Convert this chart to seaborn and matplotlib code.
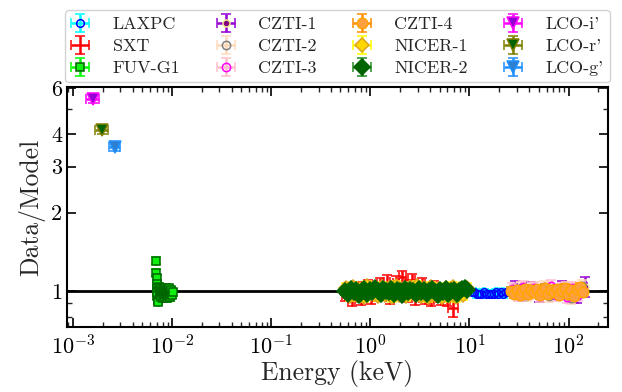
import numpy as np
import matplotlib
matplotlib.use("Agg")
import matplotlib.pyplot as plt
from matplotlib.ticker import FixedLocator, FixedFormatter, LogLocator, NullFormatter
import seaborn as sns

# ---------------- data (energy in keV, data/model ratio) ----------------
lco_i_energy = [1.6e-3]
lco_i_ratio = [5.45]
lco_r_energy = [1.95e-3]
lco_r_ratio = [4.15]
lco_g_energy = [2.65e-3]
lco_g_ratio = [3.58]

fuv_energy = [0.0069, 0.0069, 0.0070, 0.0070, 0.0070, 0.0071, 0.0071, 0.0072, 0.0072,
              0.0074, 0.0075, 0.0076, 0.0077, 0.0078, 0.0079, 0.0080, 0.0081, 0.0082,
              0.0083, 0.0084, 0.0085, 0.0086, 0.0087, 0.0088, 0.0089, 0.0090, 0.0091,
              0.0092, 0.0093, 0.0094, 0.0095, 0.0096, 0.0097, 0.0098, 0.0100, 0.0102]
fuv_ratio = [1.31, 1.18, 1.12, 1.07, 1.03, 0.99, 0.96, 0.93, 0.91,
             1.04, 0.97, 1.01, 0.95, 1.03, 0.99, 0.94, 1.02, 0.97,
             1.00, 0.95, 1.03, 0.98, 1.01, 0.94, 0.99, 1.02, 0.96,
             1.00, 0.97, 1.03, 0.95, 1.00, 0.98, 1.01, 0.97, 0.99]

sxt_energy = [0.56, 0.60, 0.65, 0.70, 0.75, 0.81, 0.87, 0.94, 1.01, 1.09, 1.17, 1.26,
              1.36, 1.46, 1.57, 1.69, 1.82, 1.96, 2.11, 2.27, 2.45, 2.63, 2.84, 3.05,
              3.29, 3.54, 3.81, 4.10, 4.42, 4.76, 5.12, 5.52, 5.94, 6.40, 6.90]
sxt_ratio = [0.97, 1.02, 0.93, 0.99, 1.03, 0.94, 0.98, 1.05, 0.95, 1.01, 0.97, 1.07,
             0.99, 1.09, 0.95, 1.03, 1.08, 1.00, 1.13, 0.96, 1.05, 1.10, 0.94, 1.03,
             1.07, 0.95, 1.02, 0.93, 1.04, 0.96, 0.94, 1.01, 0.93, 0.98, 0.86]

nicer1_energy = [0.57, 0.62, 0.67, 0.73, 0.79, 0.86, 0.93, 1.01, 1.10, 1.19, 1.30, 1.41,
                 1.53, 1.66, 1.80, 1.96, 2.13, 2.31, 2.51, 2.73, 2.96, 3.22, 3.50, 3.80,
                 4.13, 4.48, 4.87, 5.29, 5.75, 6.24, 6.78, 7.37, 8.00, 8.70, 9.45]
nicer1_ratio = [1.03, 0.96, 1.04, 0.97, 1.02, 0.95, 1.05, 0.98, 1.03, 0.96, 1.04, 0.97,
                1.03, 0.95, 1.05, 0.97, 1.02, 0.96, 1.04, 0.98, 1.05, 0.96, 1.03, 0.95,
                1.04, 0.97, 1.02, 0.95, 1.03, 0.96, 1.04, 0.95, 1.02, 0.97, 1.03]

nicer2_energy = [0.56, 0.60, 0.64, 0.68, 0.72, 0.77, 0.82, 0.87, 0.93, 0.99, 1.05, 1.12,
                 1.19, 1.27, 1.35, 1.44, 1.53, 1.63, 1.74, 1.85, 1.97, 2.10, 2.24, 2.38,
                 2.54, 2.70, 2.88, 3.07, 3.27, 3.48, 3.71, 3.95, 4.21, 4.48, 4.77, 5.08,
                 5.41, 5.76, 6.14, 6.54, 6.96, 7.42, 7.90, 8.41, 8.96, 9.55]
nicer2_ratio = [1.00, 0.98, 1.02, 0.99, 1.01, 0.97, 1.00, 1.02, 0.98, 1.01, 0.99, 1.03,
                1.00, 0.98, 1.02, 1.00, 0.99, 1.02, 0.98, 1.01, 1.00, 0.97, 1.02, 0.99,
                1.01, 1.00, 0.98, 1.02, 0.99, 1.01, 0.98, 1.00, 1.02, 0.99, 0.97, 1.01,
                0.99, 1.02, 0.98, 1.00, 1.01, 0.98, 1.00, 1.02, 1.03, 1.01]

laxpc_energy = [10.6, 11.2, 11.8, 12.5, 13.2, 14.0, 14.8, 15.6, 16.5, 17.5, 18.5, 19.6,
                20.7, 21.9, 23.2, 24.5, 26.0]
laxpc_ratio = [0.99, 0.99, 0.98, 0.98, 0.98, 0.99, 0.98, 0.98, 0.98, 0.98, 0.99, 0.98,
               0.99, 0.98, 0.99, 0.99, 1.00]

czti1_energy = [29, 35, 42, 50, 60, 72, 86, 103, 123, 145]
czti1_ratio = [1.03, 0.98, 1.02, 0.97, 1.01, 0.99, 1.03, 0.97, 0.96, 1.04]
czti2_energy = [28, 33, 38, 43, 49, 56, 64, 73, 83, 94, 107, 122, 138]
czti2_ratio = [0.99, 1.03, 0.97, 1.02, 0.98, 1.04, 0.96, 1.01, 0.98, 1.03, 0.94, 1.02, 1.05]
czti3_energy = [27, 31, 35, 40, 45, 51, 58, 66, 75, 85, 96, 109, 124, 140]
czti3_ratio = [1.02, 0.97, 1.04, 0.98, 1.03, 0.96, 1.01, 1.05, 0.97, 1.02, 0.95, 1.03, 0.97, 1.01]
czti4_energy = [26, 28, 30, 32, 34, 36.5, 39, 41.5, 44.5, 47.5, 51, 54.5, 58, 62, 66.5,
                71, 76, 81, 86.5, 92.5, 99, 106, 113, 121, 130, 140]
czti4_ratio = [1.00, 0.98, 1.01, 0.97, 1.00, 1.02, 0.98, 1.01, 0.99, 1.02, 0.97, 1.00,
               1.03, 0.98, 1.01, 0.99, 1.02, 0.97, 1.00, 1.03, 0.98, 1.01, 0.96, 1.02,
               1.04, 0.99]

# fractional 1-sigma errors (ratio) and half bin widths (energy)
ratio_err = {"LAXPC": 0.035, "SXT": 0.055, "FUV-G1": 0.03, "CZTI-1": 0.06, "CZTI-2": 0.05,
             "CZTI-3": 0.05, "CZTI-4": 0.035, "NICER-1": 0.045, "NICER-2": 0.035,
             "LCO-i'": 0.035, "LCO-r'": 0.035, "LCO-g'": 0.035}
bin_halfwidth = {"LAXPC": 0.03, "SXT": 0.08, "FUV-G1": 0.015, "CZTI-1": 0.05, "CZTI-2": 0.05,
                 "CZTI-3": 0.05, "CZTI-4": 0.04, "NICER-1": 0.03, "NICER-2": 0.03,
                 "LCO-i'": 0.15, "LCO-r'": 0.15, "LCO-g'": 0.12}

# ---------------- style ----------------
sns.set_theme(style="ticks")
plt.rcParams.update({
    "font.family": "serif",
    "font.serif": ["cmr10", "DejaVu Serif"],
    "mathtext.fontset": "cm",
    "axes.formatter.use_mathtext": True,
    "axes.unicode_minus": False,
    "xtick.direction": "in",
    "ytick.direction": "in",
    "xtick.top": True,
    "ytick.right": True,
    "axes.edgecolor": "black",
    "axes.linewidth": 1.5,
})

fig = plt.figure(figsize=(6.22, 3.92), dpi=100)
ax = fig.add_axes([67 / 622, 1 - 327 / 392, 541 / 622, 240 / 392])

ax.axhline(1.0, color="black", lw=2.0, zorder=1)

series = [
    # label, energy, ratio, ecolor, marker, facecolor, edgecolor, markersize
    ("LAXPC", laxpc_energy, laxpc_ratio, "cyan", "o", "none", "blue", 5.5),
    ("SXT", sxt_energy, sxt_ratio, "red", "none", "red", "red", 0),
    ("FUV-G1", fuv_energy, fuv_ratio, "lime", "s", "#11ee11", "darkgreen", 6),
    ("CZTI-1", czti1_energy, czti1_ratio, "darkviolet", "o", "purple", "khaki", 5),
    ("CZTI-2", czti2_energy, czti2_ratio, "peachpuff", "o", "none", "grey", 6),
    ("CZTI-3", czti3_energy, czti3_ratio, "pink", "o", "none", "magenta", 6),
    ("CZTI-4", czti4_energy, czti4_ratio, "darkorange", "o", "#ffa040", "orange", 7.5),
    ("NICER-1", nicer1_energy, nicer1_ratio, "yellow", "D", "gold", "goldenrod", 7),
    ("NICER-2", nicer2_energy, nicer2_ratio, "forestgreen", "D", "darkgreen", "darkgreen", 8.5),
    ("LCO-i'", lco_i_energy, lco_i_ratio, "magenta", "v", "darkviolet", "magenta", 9),
    ("LCO-r'", lco_r_energy, lco_r_ratio, "olive", "v", "darkgreen", "olive", 9),
    ("LCO-g'", lco_g_energy, lco_g_ratio, "dodgerblue", "v", "#2f7fd0", "dodgerblue", 9),
]

for label, e, r, ec, mk, mfc, mec, ms in series:
    e = np.asarray(e, dtype=float)
    r = np.asarray(r, dtype=float)
    yerr = ratio_err[label] * r
    xerr = bin_halfwidth[label] * e
    if label == "CZTI-1":
        yerr[-1] = 0.09
    if label == "SXT":
        yerr[-1] = 0.06
        xerr[-1] = 0.12 * e[-1]
    ax.errorbar(e, r, xerr=xerr, yerr=yerr, fmt=mk if mk != "none" else "none",
                ecolor=ec, elinewidth=1.8, capsize=3.5, capthick=1.8,
                mfc=mfc, mec=mec, ms=ms, mew=1.1, label=label, zorder=2)

ax.set_xscale("log")
ax.set_yscale("log")
ax.set_xlim(8.7e-4, 250)
ax.set_ylim(0.73, 6.05)

ax.yaxis.set_major_locator(FixedLocator([1, 2, 3, 4, 6]))
ax.yaxis.set_major_formatter(FixedFormatter(["1", "2", "3", "4", "6"]))
ax.yaxis.set_minor_locator(FixedLocator([0.8, 0.9, 5]))
ax.yaxis.set_minor_formatter(NullFormatter())
ax.xaxis.set_major_locator(LogLocator(base=10, numticks=12))
ax.xaxis.set_minor_locator(LogLocator(base=10, subs=np.arange(2, 10), numticks=12))
ax.xaxis.set_minor_formatter(NullFormatter())

ax.tick_params(which="major", length=6.5, width=1.2, labelsize=16, colors="black")
ax.tick_params(which="minor", length=3.5, width=1.0)
ax.tick_params(axis="x", which="major", pad=5)

ax.set_xlabel("Energy (keV)", fontsize=18.5, labelpad=1)
ax.set_ylabel("Data/Model", fontsize=18.5, labelpad=4)

leg = ax.legend(loc="lower center", bbox_to_anchor=(0.5, 1.02), ncol=4, fontsize=13,
                handlelength=1.0, handletextpad=1.3, columnspacing=2.0,
                labelspacing=0.35, borderpad=0.35, frameon=True, fancybox=True,
                framealpha=1.0, edgecolor="lightgrey", borderaxespad=0)

fig.savefig("out.png", dpi=100)
